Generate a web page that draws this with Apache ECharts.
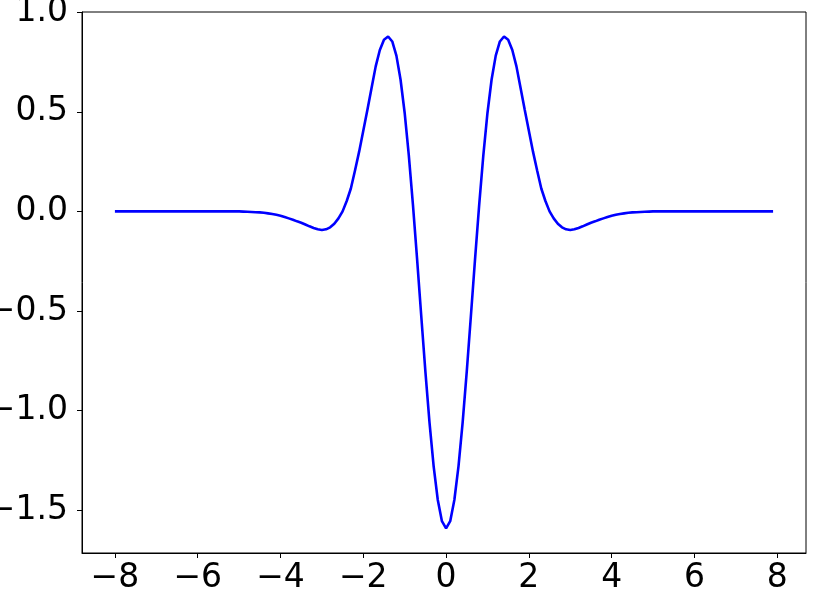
<!DOCTYPE html>
<html>
<head>
<meta charset="utf-8">
<script src="https://cdn.jsdelivr.net/npm/echarts@6.0.0/dist/echarts.min.js"></script>
<style>
  html, body { margin: 0; padding: 0; background: #fff; }
  #chart { width: 822px; height: 616px; }
</style>
</head>
<body>
<div id="chart"></div>
<script>
  // samples taken every 0.1 from x = -8.0 up to x = 7.9
  const xStart = -8.0
  const xStep = 0.1
  const yValues = [
    0, 0, 0, 0, 0, 0, 0, 0, 0, 0,
    0, 0, 0, 0, 0, 0, 0, 0, 0, 0,
    0, 0, 0, 0, 0, 0, 0, 0, 0, 0,
    0,
    -0.001, -0.002, -0.003, -0.004, -0.005, -0.007, -0.010, -0.013, -0.017, -0.022,
    -0.028, -0.035, -0.042, -0.050, -0.057, -0.066, -0.075, -0.083, -0.090, -0.093,
    -0.090, -0.080, -0.062, -0.035, 0.000, 0.052, 0.115, 0.205, 0.300, 0.405,
    0.510, 0.620, 0.728, 0.810, 0.862, 0.878, 0.853, 0.782, 0.662, 0.494,
    0.281, 0.033, -0.240, -0.524, -0.803, -1.060, -1.280, -1.449, -1.555,
    -1.591,
    -1.555, -1.449, -1.280, -1.060, -0.803, -0.524, -0.240, 0.033, 0.281, 0.494,
    0.662, 0.782, 0.853, 0.878, 0.862, 0.810, 0.728, 0.620, 0.510, 0.405,
    0.300, 0.205, 0.115, 0.052, 0.000, -0.035, -0.062, -0.080, -0.090, -0.093,
    -0.090, -0.083, -0.075, -0.066, -0.057, -0.050, -0.042, -0.035, -0.028, -0.022,
    -0.017, -0.013, -0.010, -0.007, -0.005, -0.004, -0.003, -0.002, -0.001,
    0, 0, 0, 0, 0, 0, 0, 0, 0, 0,
    0, 0, 0, 0, 0, 0, 0, 0, 0, 0,
    0, 0, 0, 0, 0, 0, 0, 0, 0, 0
  ]
  const xTicks = [-8, -6, -4, -2, 0, 2, 4, 6, 8]
  const yTicks = [-1.5, -1.0, -0.5, 0.0, 0.5, 1.0]

  const minus = s => s.replace('-', '\u2212')
  const font = {
    fontFamily: 'DejaVu Sans',
    fontSize: 33,
    color: '#000'
  }

  const points = yValues.map((y, i) => [+(xStart + i * xStep).toFixed(1), y])

  const chart = echarts.init(document.getElementById('chart'))
  chart.setOption({
    animation: false,
    backgroundColor: '#fff',
    grid: {
      left: 82,
      right: 16,
      top: 12,
      bottom: 63,
      containLabel: false,
      outerBoundsMode: 'none',
      show: true,
      borderColor: '#000',
      borderWidth: 1
    },
    xAxis: {
      type: 'value',
      min: -8.795,
      max: 8.695,
      splitLine: { show: false },
      axisLine: { onZero: false, lineStyle: { color: '#000', width: 1 } },
      axisTick: {
        customValues: xTicks,
        inside: false,
        length: 5,
        lineStyle: { color: '#000', width: 1 }
      },
      axisLabel: Object.assign({
        customValues: xTicks,
        margin: 9,
        formatter: v => minus(String(v))
      }, font)
    },
    yAxis: {
      type: 'value',
      min: -1.715,
      max: 1.001,
      splitLine: { show: false },
      axisLine: { show: true, onZero: false, lineStyle: { color: '#000', width: 1 } },
      axisTick: {
        customValues: yTicks,
        inside: false,
        length: 5,
        lineStyle: { color: '#000', width: 1 }
      },
      axisLabel: Object.assign({
        customValues: yTicks,
        margin: 14,
        formatter: v => minus(v.toFixed(1))
      }, font)
    },
    series: [{
      type: 'line',
      data: points,
      showSymbol: false,
      lineStyle: { color: '#0000ff', width: 2.6 },
      itemStyle: { color: '#0000ff' }
    }]
  })
</script>
</body>
</html>
